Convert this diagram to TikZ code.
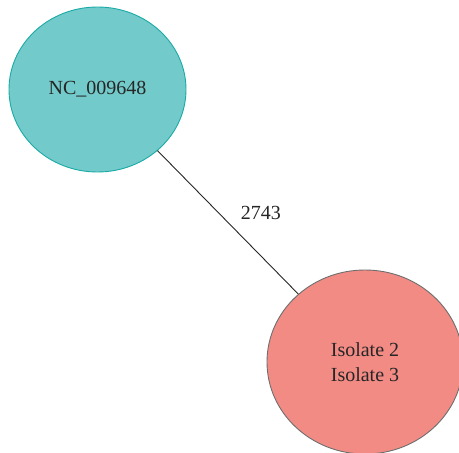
\documentclass[tikz,border=0pt]{standalone}
\usepackage{fontspec}
\setmainfont{Liberation Serif}
\usepackage{tikz}
\usetikzlibrary{shapes.geometric}

\definecolor{refteal}{HTML}{72CACA}
\definecolor{refteald}{HTML}{1BABA6}
\definecolor{refsalmon}{HTML}{F38B85}
\definecolor{refgray}{HTML}{6E6E6E}

\tikzset{
    seqnode/.style={ellipse, inner sep=0pt, line width=0.9pt, align=center,
        font=\fontsize{20}{25}\selectfont, text=black!85},
    linkedge/.style={line width=0.9pt, black!85}
}

\begin{document}
\begin{tikzpicture}[x=1pt, y=-1pt]
        % Khung hình
        \clip (0,0) rectangle (459,453);
        \fill[white] (0,0) rectangle (459,453);

        % Hai nút của mạng
        \node[seqnode, draw=refteald, fill=refteal, minimum width=177pt, minimum height=165pt]
            (ref) at (97.5,89.5) {NC\_009648};
        \node[seqnode, draw=refgray, fill=refsalmon, minimum width=196pt, minimum height=184pt]
            (iso) at (365,362) {Isolate 2\\Isolate 3};

        % Cạnh nối và khoảng cách
        \draw[linkedge] (ref) -- (iso)
            node[midway, xshift=33pt, yshift=9pt, text=black!85, font=\fontsize{20}{25}\selectfont] (dist) {2743};
    \end{tikzpicture}
\end{document}
